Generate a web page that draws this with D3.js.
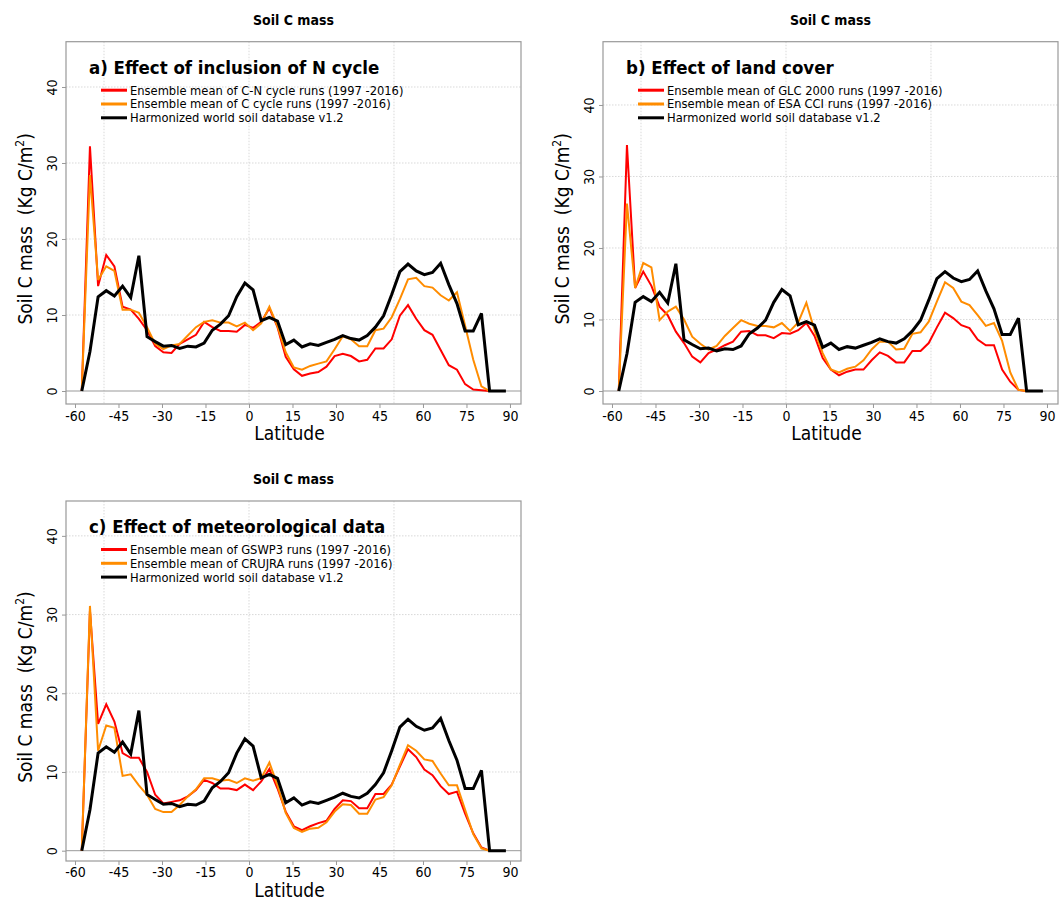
<!DOCTYPE html>
<html>
<head>
<meta charset="utf-8">
<script src="https://cdn.jsdelivr.net/npm/d3@7"></script>
<style>
  html, body { margin: 0; padding: 0; background: #fff; }
  svg { display: block; font-family: "DejaVu Sans Condensed", "DejaVu Sans", sans-serif; }
</style>
</head>
<body>
<svg id="chart" width="1059" height="901"></svg>
<script>
// Latitude band centres (degrees)
const lats = [-57.66, -54.84, -52.03, -49.22, -46.41, -43.59, -40.78, -37.97, -35.16, -32.34,
  -29.53, -26.72, -23.91, -21.09, -18.28, -15.47, -12.66, -9.84, -7.03, -4.22,
  -1.41, 1.41, 4.22, 7.03, 9.84, 12.66, 15.47, 18.28, 21.09, 23.91,
  26.72, 29.53, 32.34, 35.16, 37.97, 40.78, 43.59, 46.41, 49.22, 52.03,
  54.84, 57.66, 60.47, 63.28, 66.09, 68.91, 71.72, 74.53, 77.34, 80.16,
  82.97, 85.78, 88.59];

// Harmonized world soil database v1.2, zonal mean soil C (kg C/m2)
const hwsd = [0, 5.2, 12.4, 13.2, 12.5, 13.8, 12.3, 17.8, 7.15, 6.5,
  5.9, 6.0, 5.6, 5.9, 5.8, 6.3, 8.0, 8.8, 9.9, 12.4,
  14.2, 13.3, 9.25, 9.7, 9.2, 6.1, 6.7, 5.8, 6.2, 6.0,
  6.4, 6.8, 7.3, 6.9, 6.7, 7.3, 8.4, 9.9, 12.7, 15.7,
  16.7, 15.8, 15.3, 15.6, 16.8, 14.0, 11.5, 7.9, 7.9, 10.2,
  0, 0, 0];

// a) C-N cycle vs C cycle ensemble means
const cnRuns = [0, 32.2, 13.8, 17.9, 16.4, 11.1, 10.7, 9.5, 8.0, 5.9,
  5.1, 5.0, 6.2, 6.8, 7.4, 9.1, 8.4, 7.9, 7.9, 7.8,
  8.7, 8.3, 9.1, 10.9, 8.4, 4.5, 2.85, 2.0, 2.3, 2.5,
  3.2, 4.6, 4.9, 4.6, 3.9, 4.1, 5.6, 5.6, 6.8, 9.9,
  11.3, 9.5, 8.0, 7.4, 5.4, 3.4, 2.8, 0.9, 0.2, 0.1,
  0, null, null];
const cRuns = [0, 28.4, 14.6, 16.4, 15.8, 10.7, 10.7, 10.3, 8.4, 6.2,
  5.5, 6.0, 6.2, 7.3, 8.4, 9.1, 9.3, 9.0, 9.0, 8.5,
  9.0, 8.0, 8.9, 11.1, 8.5, 5.1, 3.1, 2.8, 3.3, 3.6,
  3.9, 5.5, 7.2, 6.8, 5.9, 5.9, 8.0, 8.2, 9.7, 12.1,
  14.7, 14.9, 13.8, 13.6, 12.6, 11.9, 13.0, 8.6, 4.1, 0.6,
  0, null, null];

// b) GLC 2000 vs ESA CCI land cover ensemble means
const glcRuns = [0, 34.4, 14.4, 16.7, 14.7, 11.8, 10.6, 8.3, 6.7, 4.8,
  4.0, 5.3, 5.8, 6.4, 6.9, 8.3, 8.4, 7.8, 7.8, 7.4,
  8.1, 8.0, 8.5, 9.5, 7.7, 4.6, 3.0, 2.2, 2.7, 3.0,
  3.0, 4.3, 5.4, 4.9, 4.0, 4.0, 5.6, 5.6, 6.7, 8.9,
  10.95, 10.2, 9.2, 8.8, 7.2, 6.4, 6.4, 3.0, 1.3, 0.15,
  0, null, null];
const esaRuns = [0, 26.2, 14.4, 17.9, 17.3, 9.9, 11.1, 11.8, 10.0, 7.6,
  6.6, 5.8, 6.3, 7.7, 8.8, 9.9, 9.4, 9.1, 9.1, 8.9,
  9.5, 8.4, 9.6, 12.35, 8.5, 5.3, 3.0, 2.6, 3.1, 3.4,
  4.3, 5.8, 6.9, 6.9, 5.8, 5.9, 8.0, 8.2, 9.7, 12.5,
  15.2, 14.4, 12.5, 12.0, 10.6, 9.1, 9.5, 7.0, 2.6, 0.15,
  0, null, null];

// c) GSWP3 vs CRUJRA forcing ensemble means
const gswpRuns = [0, 30.5, 16.1, 18.6, 16.4, 12.4, 11.8, 11.8, 10.0, 7.1,
  6.0, 6.2, 6.4, 6.9, 7.7, 9.0, 8.6, 7.9, 7.9, 7.7,
  8.4, 7.7, 8.8, 10.4, 7.9, 4.96, 3.1, 2.6, 3.1, 3.5,
  3.8, 5.3, 6.4, 6.3, 5.4, 5.4, 7.2, 7.2, 8.4, 10.7,
  12.9, 11.9, 10.3, 9.6, 8.2, 7.2, 7.5, 4.7, 2.2, 0.4,
  0, null, null];
const crujraRuns = [0, 31.1, 12.7, 15.9, 15.6, 9.5, 9.7, 8.3, 7.1, 5.3,
  4.9, 4.9, 5.8, 6.9, 7.8, 9.2, 9.2, 8.9, 9.0, 8.6,
  9.2, 8.9, 9.2, 11.2, 8.3, 4.8, 2.9, 2.4, 2.8, 2.9,
  3.6, 4.97, 5.9, 5.8, 4.7, 4.7, 6.5, 6.8, 8.3, 10.9,
  13.4, 12.7, 11.6, 11.4, 9.8, 8.3, 8.3, 5.2, 2.1, 0.3,
  0, null, null];

const xTicks = [-60, -45, -30, -15, 0, 15, 30, 45, 60, 75, 90];
const xGrid = [-50, 0, 50];
const yTicks = [0, 10, 20, 30, 40];

const hwsdLabel = "Harmonized world soil database v1.2";

const panels = [
  { title: "a) Effect of inclusion of N cycle",
    series: [
      { name: "Ensemble mean of C-N cycle runs (1997 -2016)", values: cnRuns, color: "#ff0000", width: 2 },
      { name: "Ensemble mean of C cycle runs (1997 -2016)", values: cRuns, color: "#ff8c00", width: 2 }
    ],
    box: { left: 66, right: 521, top: 41.7, bottom: 404 }, yDomain: [-1.71, 45.96],
    tickPad: 3, xTitleOffset: 36 },
  { title: "b) Effect of land cover",
    series: [
      { name: "Ensemble mean of GLC 2000 runs (1997 -2016)", values: glcRuns, color: "#ff0000", width: 2 },
      { name: "Ensemble mean of ESA CCI runs (1997 -2016)", values: esaRuns, color: "#ff8c00", width: 2 }
    ],
    box: { left: 603, right: 1058, top: 41.7, bottom: 404 }, yDomain: [-1.82, 48.85],
    tickPad: 3, xTitleOffset: 36 },
  { title: "c) Effect of meteorological data",
    series: [
      { name: "Ensemble mean of GSWP3 runs (1997 -2016)", values: gswpRuns, color: "#ff0000", width: 2 },
      { name: "Ensemble mean of CRUJRA runs (1997 -2016)", values: crujraRuns, color: "#ff8c00", width: 2 }
    ],
    box: { left: 66, right: 521, top: 501, bottom: 861 }, yDomain: [-1.31, 44.43],
    tickPad: 2, xTitleOffset: 36 }
];

const svg = d3.select("#chart");

panels.forEach(p => {
  const b = p.box;
  const g = svg.append("g");
  const x = d3.scaleLinear().domain([-63.1, 93.8]).range([b.left, b.right]);
  const y = d3.scaleLinear().domain(p.yDomain).range([b.bottom, b.top]);

  // header above the plot
  g.append("text")
    .attr("x", (b.left + b.right) / 2).attr("y", b.top - 17)
    .attr("text-anchor", "middle")
    .attr("font-size", 14).attr("font-weight", "bold")
    .text("Soil C mass");

  // grid lines
  g.append("g").selectAll("line").data(yTicks.filter(v => v !== 0)).join("line")
    .attr("x1", b.left).attr("x2", b.right)
    .attr("y1", d => y(d)).attr("y2", d => y(d))
    .attr("stroke", "#cfcfcf").attr("stroke-width", 0.8).attr("stroke-dasharray", "1.5,1.5");
  g.append("g").selectAll("line").data(xGrid).join("line")
    .attr("x1", d => x(d)).attr("x2", d => x(d))
    .attr("y1", b.top).attr("y2", b.bottom)
    .attr("stroke", "#cfcfcf").attr("stroke-width", 0.8).attr("stroke-dasharray", "1.5,1.5");
  g.append("line")
    .attr("x1", b.left).attr("x2", b.right)
    .attr("y1", y(0)).attr("y2", y(0))
    .attr("stroke", "#999").attr("stroke-width", 1);

  // axes
  const xAxis = g.append("g").attr("transform", `translate(0,${b.bottom})`)
    .call(d3.axisBottom(x).tickValues(xTicks).tickSize(4).tickPadding(p.tickPad).tickFormat(d3.format("d")));
  xAxis.select(".domain").remove();
  xAxis.selectAll(".tick line").attr("stroke", "#999");
  xAxis.selectAll(".tick text").attr("font-size", 14).attr("fill", "#000")
    .attr("font-family", "DejaVu Sans Condensed, DejaVu Sans, sans-serif")
    .text(d => d < 0 ? "-" + Math.abs(d) : d);

  const yAxis = g.append("g").attr("transform", `translate(${b.left},0)`)
    .call(d3.axisLeft(y).tickValues(yTicks).tickSize(4).tickPadding(3));
  yAxis.select(".domain").remove();
  yAxis.selectAll(".tick line").attr("stroke", "#999");
  yAxis.selectAll(".tick text")
    .attr("font-size", 14).attr("fill", "#000")
    .attr("font-family", "DejaVu Sans Condensed, DejaVu Sans, sans-serif")
    .attr("x", null).attr("dy", null)
    .attr("text-anchor", "middle")
    .attr("transform", "translate(-9,0) rotate(-90)");

  // plot frame
  g.append("rect")
    .attr("x", b.left).attr("y", b.top)
    .attr("width", b.right - b.left).attr("height", b.bottom - b.top)
    .attr("fill", "none").attr("stroke", "#999").attr("stroke-width", 1.2);

  // axis titles
  g.append("text")
    .attr("x", (b.left + b.right) / 2 - 4).attr("y", b.bottom + p.xTitleOffset)
    .attr("text-anchor", "middle").attr("font-size", 19)
    .text("Latitude");
  const yt = g.append("text")
    .attr("transform", `translate(${b.left - 34},${(b.top + b.bottom) / 2 + 6}) rotate(-90)`)
    .attr("text-anchor", "middle").attr("font-size", 19)
    .attr("xml:space", "preserve");
  yt.append("tspan").text("Soil C mass\u00a0 (Kg C/m");
  yt.append("tspan").attr("font-size", 12).attr("dy", -8).text("2");
  yt.append("tspan").attr("dy", 8).text(")");

  // data lines
  const allSeries = [...p.series, { name: hwsdLabel, values: hwsd, color: "#000", width: 3 }];
  const line = d3.line()
    .defined(d => d[1] !== null)
    .x(d => x(d[0])).y(d => y(d[1]));
  allSeries.forEach(s => {
    g.append("path")
      .datum(lats.map((lat, i) => [lat, s.values[i]]))
      .attr("fill", "none")
      .attr("stroke", s.color).attr("stroke-width", s.width)
      .attr("stroke-linejoin", "miter").attr("stroke-miterlimit", 3)
      .attr("d", line);
  });

  // panel heading and legend
  g.append("text")
    .attr("x", b.left + 23).attr("y", b.top + 32)
    .attr("font-size", 18.5).attr("font-weight", "bold")
    .text(p.title);
  const leg = g.append("g").attr("transform", `translate(${b.left + 35},${b.top + 48.5})`);
  allSeries.forEach((s, i) => {
    leg.append("line")
      .attr("x1", 0).attr("x2", 26).attr("y1", i * 13.8).attr("y2", i * 13.8)
      .attr("stroke", s.color).attr("stroke-width", 3);
    leg.append("text")
      .attr("x", 29).attr("y", i * 13.8).attr("dy", "0.35em")
      .attr("font-size", 12.8)
      .text(s.name);
  });
});
</script>
</body>
</html>
